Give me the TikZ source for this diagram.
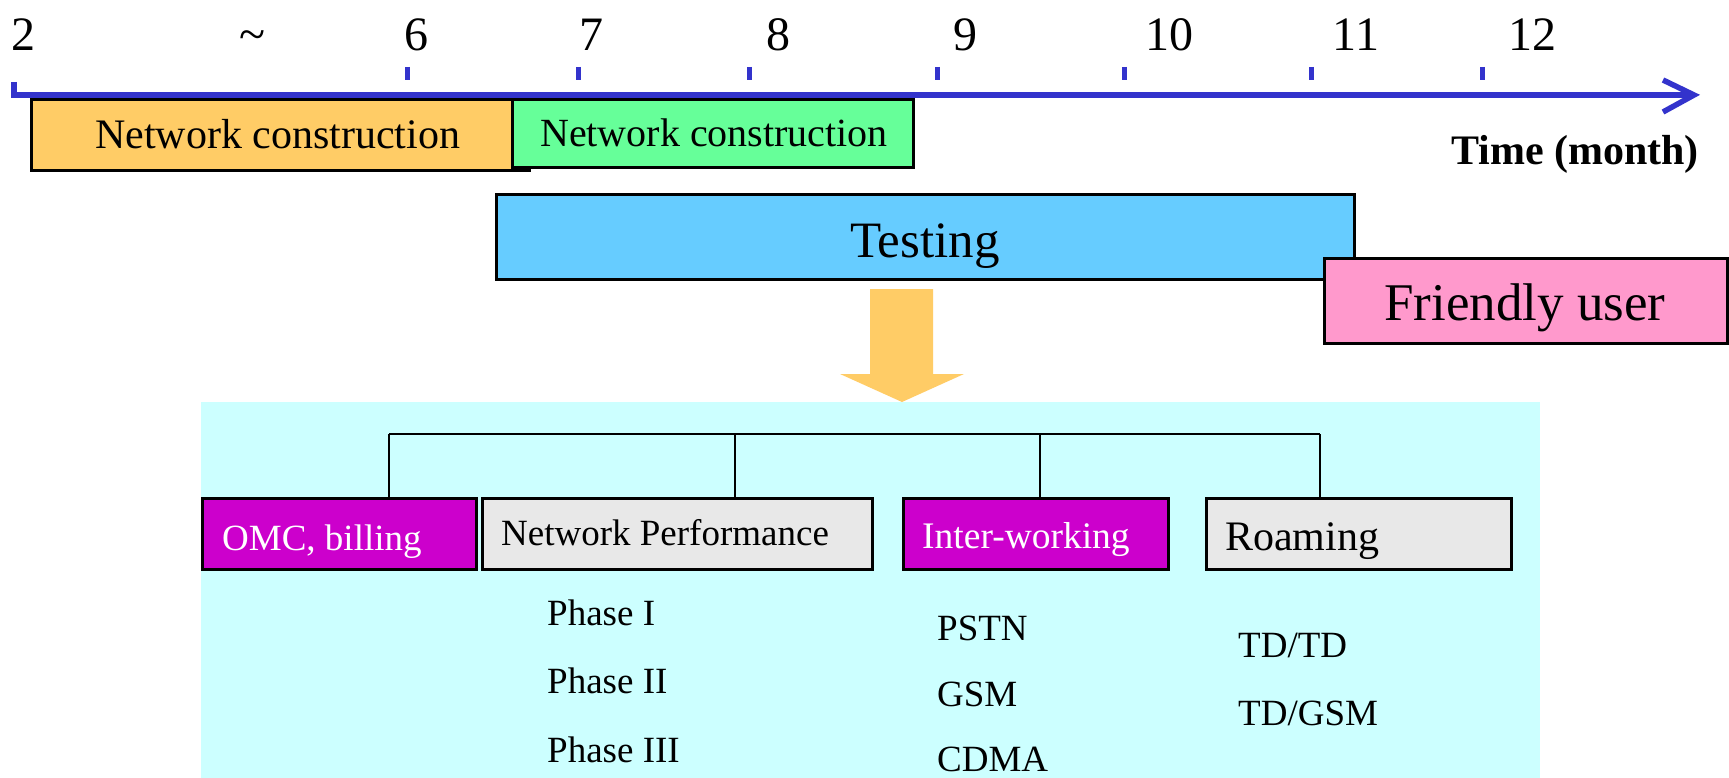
\documentclass[tikz,border=0pt]{standalone}
\usepackage{fontspec}
\setmainfont{Liberation Serif}
\usetikzlibrary{arrows.meta}
\definecolor{axisblue}{HTML}{3333CC}
\definecolor{orangebar}{HTML}{FFCC66}
\definecolor{greenbar}{HTML}{66FF99}
\definecolor{bluebar}{HTML}{66CCFF}
\definecolor{pinkbar}{HTML}{FF99CC}
\definecolor{magbox}{HTML}{CC00CC}
\definecolor{graybox}{HTML}{E8E8E8}
\definecolor{cyanbg}{HTML}{CCFFFF}
\newcommand{\fs}[1]{\fontsize{#1}{#1}\selectfont}
\begin{document}
\begin{tikzpicture}[x=1pt,y=-1pt,
  bar/.style={draw=black, line width=3pt, inner sep=0pt, anchor=north west},
  lbl/.style={anchor=base west, inner sep=0pt},
  num/.style={anchor=base, inner sep=0pt, font=\fs{48}},
  tick/.style={draw=axisblue, line width=5pt},
  tree/.style={draw=black, line width=2.3pt}]
\useasboundingbox (0,0) rectangle (1729,778);
\fill[white] (0,0) rectangle (1729,778);

% month numbers
\node[num] (n2) at (23,51) {2};
\node[num] (ntl) at (252,51) {\char`\~};
\node[num] (n6) at (416,51) {6};
\node[num] (n7) at (591,51) {7};
\node[num] (n8) at (778,51) {8};
\node[num] (n9) at (965,51) {9};
\node[num] (n10) at (1169,51) {10};
\node[num] (n11) at (1356,51) {11};
\node[num] (n12) at (1532,51) {12};

% time axis
\coordinate (a0) at (14,82);
\coordinate (a1) at (14,95);
\coordinate (a2) at (1694,95);
\draw[axisblue, line width=6pt] (a0) -- (a1) -- (a2);
\draw[axisblue, line width=5.5pt] (1663,80) -- (a2) -- (1663,112);
\foreach \x in {407,578,749,937,1124,1311,1482}
  \draw[tick] (\x,67) -- (\x,80);
\node[anchor=base east, inner sep=0pt, font=\fs{42}\bfseries] (tm) at (1699,165) {Time (month)};

% bars
\node[bar, fill=orangebar, minimum width=498pt, minimum height=71pt] (nc1) at (30,98) {};
\node[lbl, font=\fs{42}] (nc1t) at (95,149) {Network construction};
\node[bar, fill=greenbar, minimum width=401pt, minimum height=68pt] (nc2) at (511,98) {};
\node[lbl, font=\fs{40}] (nc2t) at (540,147) {Network construction};
\node[bar, fill=bluebar, minimum width=858pt, minimum height=85pt] (test) at (495,193) {};
\node[lbl, font=\fs{51}] (testt) at (850,257) {Testing};
\node[bar, fill=pinkbar, minimum width=403pt, minimum height=85pt] (fu) at (1323,257) {};
\node[lbl, font=\fs{53}] (fut) at (1384,320) {Friendly user};

% big down arrow
\fill[orangebar] (870,289) -- (933,289) -- (933,374) -- (964,374) -- (902,402) -- (840,374) -- (870,374) -- cycle;

% cyan panel
\fill[cyanbg] (201,402) rectangle (1540,778);

% category boxes
\node[bar, fill=magbox, minimum width=274pt, minimum height=71pt] (omc) at (201,497) {};
\node[lbl, font=\fs{37}, text=white] (omct) at (222,550) {OMC, billing};
\node[bar, fill=graybox, minimum width=390pt, minimum height=71pt] (np) at (481,497) {};
\node[lbl, font=\fs{37}] (npt) at (501,545) {Network Performance};
\node[bar, fill=magbox, minimum width=265pt, minimum height=71pt] (iw) at (902,497) {};
\node[lbl, font=\fs{37.5}, text=white] (iwt) at (922,548) {Inter-working};
\node[bar, fill=graybox, minimum width=305pt, minimum height=71pt] (ro) at (1205,497) {};
\node[lbl, font=\fs{42}] (rot) at (1225,550) {Roaming};

% tree connectors
\coordinate (j1) at (389,434);
\coordinate (j2) at (735,434);
\coordinate (j3) at (1040,434);
\coordinate (j4) at (1320,434);
\draw[tree] (j1) -- (j4);
\draw[tree] (j1) -- (j1 |- omc.north);
\draw[tree] (j2) -- (j2 |- np.north);
\draw[tree] (j3) -- (j3 |- iw.north);
\draw[tree] (j4) -- (j4 |- ro.north);

% sub items
\node[lbl, font=\fs{37}] (p1) at (547,625) {Phase I};
\node[lbl, font=\fs{37}] (p2) at (547,693) {Phase II};
\node[lbl, font=\fs{37}] (p3) at (547,762) {Phase III};
\node[lbl, font=\fs{37}] (s1) at (937,640) {PSTN};
\node[lbl, font=\fs{37}] (s2) at (937,706) {GSM};
\node[lbl, font=\fs{37}] (s3) at (937,771) {CDMA};
\node[lbl, font=\fs{37}] (r1) at (1238,657) {TD/TD};
\node[lbl, font=\fs{37}] (r2) at (1238,725) {TD/GSM};
\end{tikzpicture}
\end{document}
